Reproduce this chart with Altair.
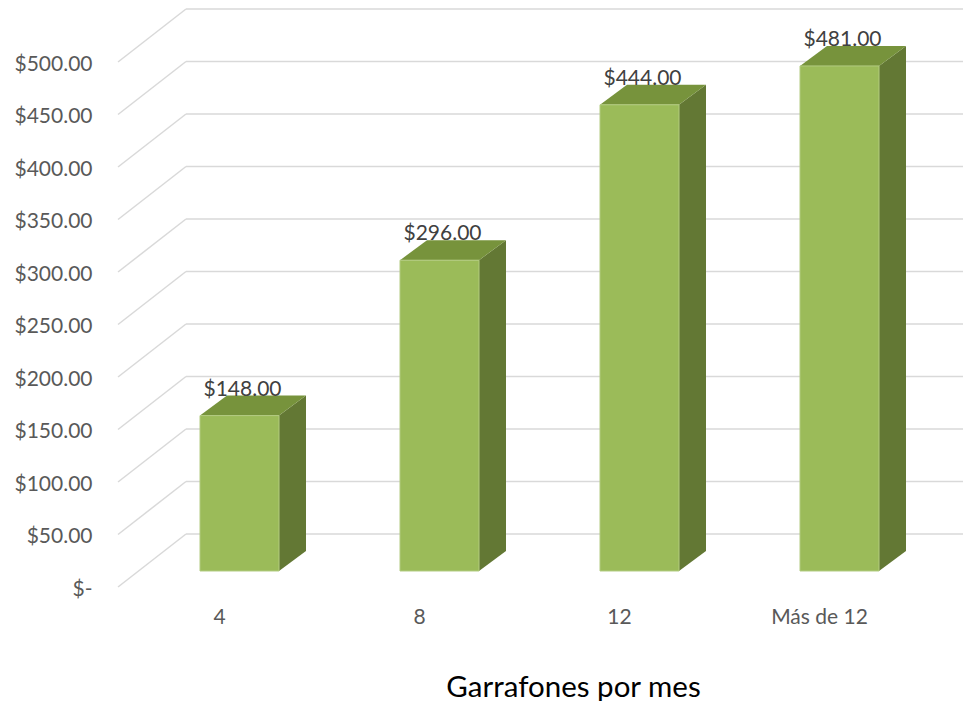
import altair as alt
import pandas as pd

# ---- data ----
categories = ["4", "8", "12", "Más de 12"]
values = [148, 296, 444, 481]
tick_values = [0, 50, 100, 150, 200, 250, 300, 350, 400, 450, 500]
x_title = "Garrafones por mes"

# ---- geometry / style constants (data units of the scales) ----
BAR_HALF = 0.1975      # half width of bar front face (category units)
DEPTH_X = 0.135        # oblique depth of the bars, horizontal
DEPTH_V = 19.1         # oblique depth of the bars, vertical (value units)
WALL_FRONT_X = -0.6075
WALL_BACK_X = -0.2675
WALL_DEPTH_V = 50.5
X_DOMAIN = [-1.1575, 3.6175]
BAR_Y_DOMAIN = [-123.81, 536.19]
WALL_Y_DOMAIN = [-108.57, 551.43]
CAT_LABEL_SHIFT = -0.1
CAT_LABEL_V = -45

W, H = 955, 693
FONT = "Lato"
GRID = "#D9D9D9"
FRONT = "#9BBB59"
TOP = "#77933C"
SIDE = "#637834"

# ---- tables built from the arrays ----
idx = list(range(len(categories)))
bars = pd.DataFrame({"cat": categories, "idx": idx, "value": values})
bars["x0"] = bars["idx"] - BAR_HALF
bars["x1"] = bars["idx"] + BAR_HALF
bars["base"] = 0.0
bars["vlab"] = bars["value"] + DEPTH_V
bars["catx"] = bars["idx"] + CAT_LABEL_SHIFT
bars["caty"] = CAT_LABEL_V

side_rows, top_rows = [], []
for c, i, v in zip(categories, idx, values):
    x0, x1 = i - BAR_HALF, i + BAR_HALF
    side_rows.append({"cat": c, "x": x1, "y": v, "y2": 0.0})
    side_rows.append({"cat": c, "x": x1 + DEPTH_X, "y": v + DEPTH_V, "y2": DEPTH_V})
    top_rows.append({"cat": c, "y": v, "x": x0, "x2": x1})
    top_rows.append({"cat": c, "y": v + DEPTH_V, "x": x0 + DEPTH_X, "x2": x1 + DEPTH_X})
side_df = pd.DataFrame(side_rows)
top_df = pd.DataFrame(top_rows)

wall = pd.DataFrame({"v": tick_values})
wall["xf"] = WALL_FRONT_X
wall["xb"] = WALL_BACK_X
wall["vb"] = wall["v"] + WALL_DEPTH_V
wall["xr"] = X_DOMAIN[1]

# ---- scales & axes ----
xs = alt.Scale(domain=X_DOMAIN, nice=False, zero=False)
bar_ys = alt.Scale(domain=BAR_Y_DOMAIN, nice=False, zero=False)
wall_ys = alt.Scale(domain=WALL_Y_DOMAIN, nice=False, zero=False)

xaxis = alt.Axis(
    title=x_title, labels=False, ticks=False, domain=False, grid=False,
    titleFont=FONT, titleFontSize=29.5, titleFontWeight="normal", titleColor="#000000",
    titleX=565, titleY=-5, titleBaseline="alphabetic", titleAlign="center",
)
yaxis = alt.Axis(
    values=tick_values, title=None, domain=False, ticks=False, tickSize=0, grid=False,
    labelPadding=0, offset=-84, labelFont=FONT, labelFontSize=21, labelColor="#595959",
    labelOffset=2,
    labelExpr="datum.value == 0 ? '$-\u00a0\u00a0' : '$' + format(datum.value, ',.2f')",
)

# ---- wall (gridlines + y axis) ----
diag = alt.Chart(wall).mark_rule(color=GRID, strokeWidth=1.5).encode(
    x=alt.X("xf:Q", scale=xs, axis=xaxis), x2="xb:Q",
    y=alt.Y("v:Q", scale=wall_ys, axis=yaxis), y2="vb:Q",
)
horiz = alt.Chart(wall).mark_rule(color=GRID, strokeWidth=1.5).encode(
    x=alt.X("xb:Q", scale=xs, axis=xaxis), x2="xr:Q",
    y=alt.Y("vb:Q", scale=wall_ys, axis=yaxis),
)
wall_layer = alt.layer(diag, horiz)

# ---- 3D bars ----
side = alt.Chart(side_df).mark_area(color=SIDE, orient="vertical").encode(
    x=alt.X("x:Q", scale=xs, axis=xaxis),
    y=alt.Y("y:Q", scale=bar_ys, axis=None, stack=False), y2="y2:Q",
    detail="cat:N",
)
top = alt.Chart(top_df).mark_area(color=TOP, orient="horizontal").encode(
    y=alt.Y("y:Q", scale=bar_ys, axis=None),
    x=alt.X("x:Q", scale=xs, axis=xaxis, stack=False), x2="x2:Q",
    detail="cat:N",
)
front = alt.Chart(bars).mark_rect(color=FRONT, stroke="#B2CB80", strokeWidth=1).encode(
    x=alt.X("x0:Q", scale=xs, axis=xaxis), x2="x1:Q",
    y=alt.Y("base:Q", scale=bar_ys, axis=None), y2="value:Q",
)
data_labels = alt.Chart(bars).mark_text(
    font=FONT, fontSize=21, color="#404040", baseline="middle", dx=3, dy=-6
).encode(
    x=alt.X("idx:Q", scale=xs, axis=xaxis),
    y=alt.Y("vlab:Q", scale=bar_ys, axis=None),
    text=alt.Text("value:Q", format="$,.2f"),
)
cat_labels = alt.Chart(bars).mark_text(
    font=FONT, fontSize=21, color="#595959", baseline="middle"
).encode(
    x=alt.X("catx:Q", scale=xs, axis=xaxis),
    y=alt.Y("caty:Q", scale=bar_ys, axis=None),
    text="cat:N",
)
bar_layer = alt.layer(side, top, front, data_labels, cat_labels)

chart = (
    alt.layer(wall_layer, bar_layer)
    .resolve_scale(y="independent")
    .properties(width=W, height=H, padding=0, autosize=alt.AutoSizeParams(type="none"))
    .configure_view(strokeWidth=0)
)

chart.save("out.html", embed_options={"renderer": "svg", "actions": False})
